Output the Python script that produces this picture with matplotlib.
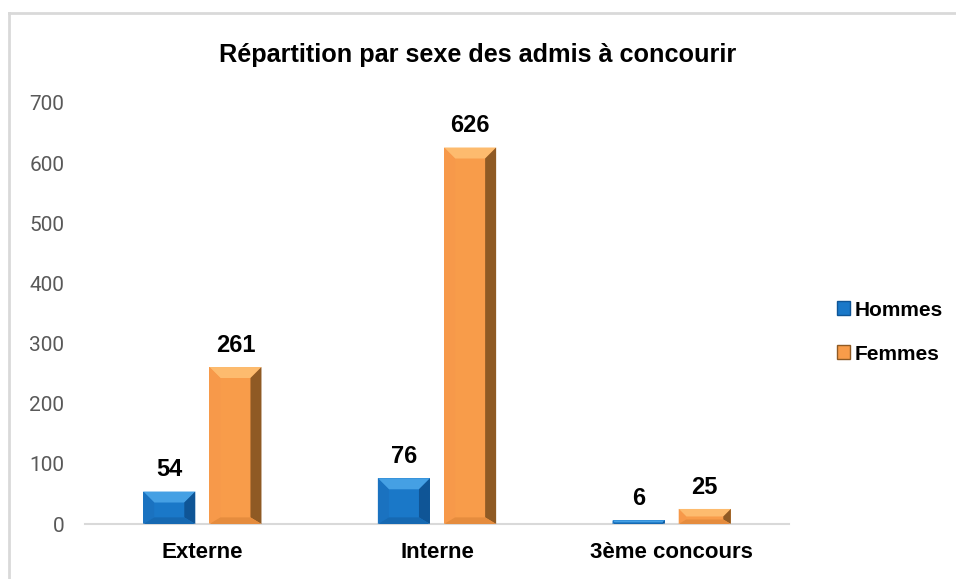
import matplotlib.pyplot as plt
from matplotlib.patches import Polygon
from matplotlib.lines import Line2D
import numpy as np

# données
categories = ["Externe", "Interne", "3ème concours"]
hommes = [54, 76, 6]
femmes = [261, 626, 25]
series = ["Hommes", "Femmes"]

# couleurs des facettes: face, haut, gauche, droite, bas
couleurs = {
    "Hommes": ["#1a78c8", "#45a0e4", "#1a72c0", "#0f5596", "#1669b2"],
    "Femmes": ["#f89c4a", "#fdbb6e", "#f7994a", "#8f5a24", "#e58c3e"],
}

plt.rcParams['font.family'] = ['Liberation Sans', 'DejaVu Sans']

fig = plt.figure(figsize=(9.56, 5.79), dpi=100)
ax = fig.add_axes([85 / 956, 55 / 579, 704 / 956, 421 / 579])
ax.set_xlim(-0.5, 2.5)
ax.set_ylim(0, 700)

# cadre gris du graphique
fig.add_artist(Line2D([9 / 956, 9 / 956], [0, 1 - 13 / 579], color="#d9d9d9", lw=2))
fig.add_artist(Line2D([9 / 956, 1], [1 - 13 / 579, 1 - 13 / 579], color="#d9d9d9", lw=2))

x = np.arange(len(categories))
largeur = 0.222
decalage = 0.141

# pixels par unité de données
px_x = 704 / 3.0
px_y = 421 / 700.0


def barre_biseau(x0, h, cols):
    w = largeur
    x1 = x0 - w / 2
    x2 = x0 + w / 2
    bpx = min(11, h * px_y / 2, w * px_x / 4)
    bx = bpx / px_x
    by = bpx / px_y
    byb = by * 0.6
    face, haut, gauche, droite, bas = cols
    ax.add_patch(Polygon([(x1, 0), (x2, 0), (x2, h), (x1, h)], closed=True,
                         facecolor=face, edgecolor="none", zorder=2))
    ax.add_patch(Polygon([(x1, h), (x2, h), (x2 - bx, h - by), (x1 + bx, h - by)],
                         facecolor=haut, edgecolor="none", zorder=3))
    ax.add_patch(Polygon([(x1, 0), (x1, h), (x1 + bx, h - by), (x1 + bx, byb)],
                         facecolor=gauche, edgecolor="none", zorder=3))
    ax.add_patch(Polygon([(x2, 0), (x2, h), (x2 - bx, h - by), (x2 - bx, byb)],
                         facecolor=droite, edgecolor="none", zorder=3))
    ax.add_patch(Polygon([(x1, 0), (x2, 0), (x2 - bx, byb), (x1 + bx, byb)],
                         facecolor=bas, edgecolor="none", zorder=3))
    ax.text(x0, h + 17, str(h), ha="center", va="bottom", fontsize=17,
            fontweight="bold", color="black")


for i in range(len(categories)):
    barre_biseau(x[i] - decalage, hommes[i], couleurs["Hommes"])
    barre_biseau(x[i] + decalage, femmes[i], couleurs["Femmes"])

ax.set_xticks(x)
ax.set_xticklabels(categories, fontsize=16, fontweight="bold")
ax.tick_params(axis="x", length=0, pad=13)
ax.set_yticks(range(0, 701, 100))
ax.tick_params(axis="y", length=0, pad=15, labelsize=15, labelcolor="#595959")
for lab in ax.get_yticklabels():
    lab.set_fontfamily("Roboto")

for s in ["top", "right", "left"]:
    ax.spines[s].set_visible(False)
ax.spines["bottom"].set_color("#d9d9d9")
ax.spines["bottom"].set_linewidth(1.5)

fig.text(478 / 956, 1 - 55 / 579, "Répartition par sexe des admis à concourir",
         ha="center", va="center", fontsize=18.2, fontweight="bold")

# légende
poignees = [plt.Rectangle((0, 0), 1, 1, facecolor=couleurs[s][0],
                          edgecolor=couleurs[s][3], lw=1) for s in series]
leg = fig.legend(poignees, series, loc="center left",
                 bbox_to_anchor=(818 / 956, 1 - 332 / 579), frameon=False,
                 prop={"weight": "bold", "size": 15}, handlelength=0.65,
                 handleheight=0.65, handletextpad=0.2, labelspacing=1.2)

fig.savefig("out.png", dpi=100)
